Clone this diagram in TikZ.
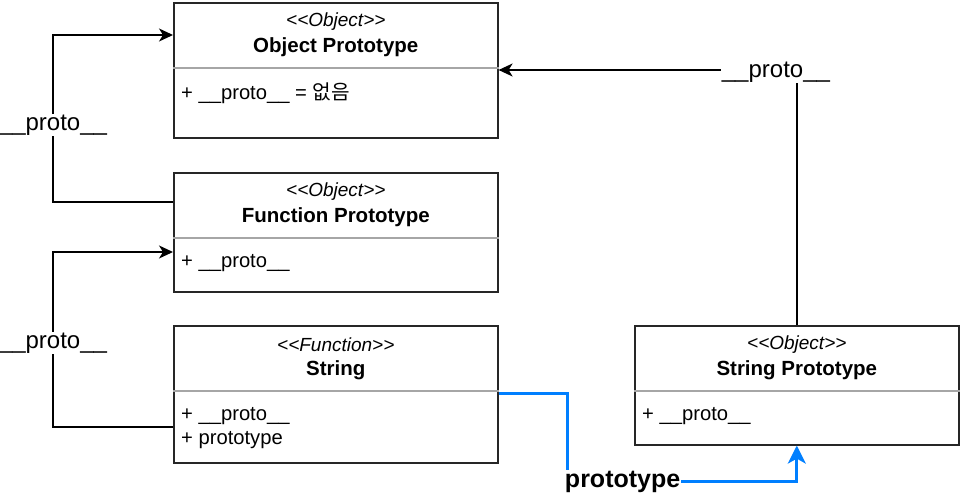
\documentclass[tikz,border=0pt]{standalone}
\usepackage{fontspec}
\setmainfont{Liberation Sans}
\newfontfamily\kofont{Noto Sans CJK KR}
\usepackage{tikz}
\usetikzlibrary{positioning}
\usetikzlibrary{calc,arrows.meta}

\begin{document}
\begin{tikzpicture}[x=1pt, y=-1pt,
classbox/.style = {draw=black!85, line width=1.6pt, fill=white,
	minimum width=324pt, minimum height=#1,
	anchor=north west, inner sep=0pt},
sep/.style = {draw=black!35, line width=1.2pt},
stereo/.style = {font=\fontsize{19}{21}\selectfont\itshape, inner sep=0pt},
title/.style = {font=\fontsize{20.5}{23}\selectfont\bfseries, inner sep=0pt},
attr/.style = {font=\fontsize{20.2}{22}\selectfont, inner sep=0pt, anchor=west},
lbl/.style = {font=\fontsize{24}{26}\selectfont, fill=white, inner sep=1pt},
link/.style = {draw=black, line width=1.6pt,
	-{Stealth[length=14pt, width=13pt, inset=4pt]}},
protolink/.style = {draw={rgb,255:red,0;green,127;blue,255}, line width=3pt,
	-{Stealth[length=18pt, width=18pt, inset=5pt]}}
]
\useasboundingbox (0,0) rectangle (960,495);

% Draw the class boxes
\node[classbox=135pt] (objproto)  at (173,2)   {};
\node[classbox=119pt] (funcproto) at (173,172) {};
\node[classbox=137pt] (strfn)     at (173,325) {};
\node[classbox=119pt] (strproto)  at (634,325) {};

% Separators and texts of every box
\foreach \b/\st/\ti in {objproto/Object/Object Prototype,
	funcproto/Object/Function Prototype,
	strfn/Function/String,
	strproto/Object/String Prototype}
{
	\draw[sep] ([yshift=-66pt]\b.north west) -- ([yshift=-66pt]\b.north east);
	\node[stereo] (\b-st) at ([yshift=-20pt]\b.north) {<\kern0pt<\st>\kern0pt>};
	\node[title]  (\b-ti) at ([yshift=-45pt]\b.north) {\ti};
}
\node[attr] (objproto-a1)  at ([xshift=8pt,yshift=-91pt]objproto.north west)
	{+ \_\_proto\_\_ = {\kofont 없음}};
\node[attr] (funcproto-a1) at ([xshift=8pt,yshift=-91pt]funcproto.north west)
	{+ \_\_proto\_\_};
\node[attr] (strfn-a1)     at ([xshift=8pt,yshift=-91pt]strfn.north west)
	{+ \_\_proto\_\_};
\node[attr] (strfn-a2)     at ([xshift=8pt,yshift=-115pt]strfn.north west)
	{+ prototype};
\node[attr] (strproto-a1)  at ([xshift=8pt,yshift=-91pt]strproto.north west)
	{+ \_\_proto\_\_};

% Connect the boxes along the __proto__ chain
\draw[link] ([yshift=-30pt]funcproto.north west) -- ++(-120,0)
	|- node[lbl, pos=0.23] {\_\_proto\_\_} ([yshift=-33pt]objproto.north west);
\draw[link] ([yshift=-102pt]strfn.north west) -- ++(-120,0)
	|- node[lbl, pos=0.24] {\_\_proto\_\_} ([yshift=-80pt]funcproto.north west);
\draw[link] (strproto.north)
	|- node[lbl, pos=0.535, yshift=-2pt] {\_\_proto\_\_} ([yshift=-68pt]objproto.north east);

% The prototype link
\draw[protolink] ([yshift=-68pt]strfn.north east) -- ++(69,0)
	|- node[lbl, pos=0.62, font=\fontsize{25}{27}\selectfont\bfseries] {prototype}
	([yshift=-36pt]strproto.south) -- (strproto.south);
\end{tikzpicture}
\end{document}
